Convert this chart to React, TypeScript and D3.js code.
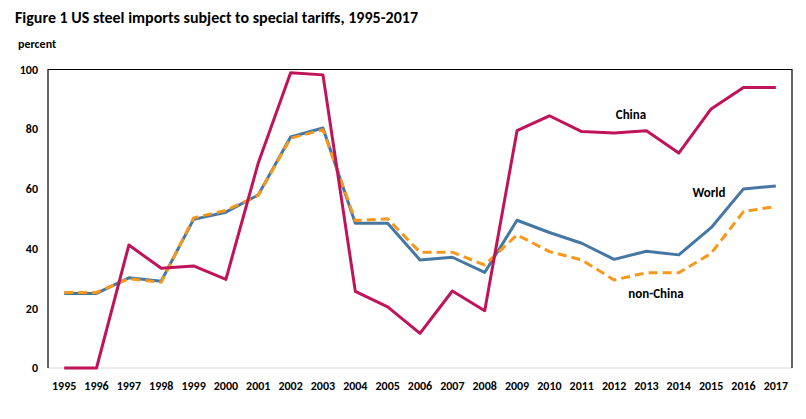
import React from "react";
import * as d3 from "d3";

const years = [
  "1995", "1996", "1997", "1998", "1999", "2000", "2001", "2002", "2003", "2004", "2005", "2006",
  "2007", "2008", "2009", "2010", "2011", "2012", "2013", "2014", "2015", "2016", "2017",
];

const china = [
  0, 0, 41.2, 33.4, 34.2, 29.7, 68.7, 98.9, 98.2, 25.7, 20.5, 11.6,
  25.8, 19.2, 79.5, 84.5, 79.2, 78.7, 79.5, 72.0, 86.8, 94.0, 94.0,
];

const world = [
  25.0, 25.0, 30.2, 29.1, 49.8, 52.2, 58.0, 77.4, 80.4, 48.5, 48.5, 36.2,
  37.1, 32.0, 49.5, 45.4, 41.8, 36.4, 39.1, 37.9, 47.0, 60.0, 61.0,
];

const nonChina = [
  25.3, 25.3, 29.9, 28.7, 50.3, 52.8, 57.8, 77.0, 79.8, 49.4, 50.0, 38.8,
  38.8, 34.5, 44.6, 39.0, 36.2, 29.5, 31.9, 31.9, 38.4, 52.4, 54.1,
];

const yTicks = [0, 20, 40, 60, 80, 100];

const width = 806;
const height = 419;
const margin = { left: 48, top: 69.5, right: 14, bottom: 51 };
const innerW = width - margin.left - margin.right;
const innerH = height - margin.top - margin.bottom;

const x = d3.scaleBand<string>().domain(years).range([0, innerW]);
const y = d3.scaleLinear().domain([0, 100]).range([innerH, 0]);

const line = d3
  .line<number>()
  .x((_, i) => (x(years[i]) ?? 0) + x.bandwidth() / 2)
  .y((d) => y(d));

const font = "Carlito, Calibri, Lato, 'Open Sans', sans-serif";

const App = () => {
  return (
    <svg width={width} height={height} style={{ display: "block", position: "absolute", left: 0, top: 0 }}>
      <rect width={width} height={height} fill="white" />
      <text x={15} y={23} fontFamily={font} fontWeight="bold" fontSize={15} textLength={403} lengthAdjust="spacingAndGlyphs" fill="#000">
        Figure 1 US steel imports subject to special tariffs, 1995-2017
      </text>
      <text x={18} y={48} fontFamily={font} fontSize={12} fontWeight={600} fill="#000">
        percent
      </text>
      <g transform={`translate(${margin.left}, ${margin.top})`}>
        {/* frame */}
        <line x1={0} x2={innerW} y1={innerH} y2={innerH} stroke="#d9d9d9" strokeWidth={1.2} />
        <path d={`M0,${innerH}V0H${innerW}V${innerH}`} fill="none" stroke="#000" strokeWidth={1.2} />
        {yTicks.map((t) => (
          <text key={t} x={-10} y={y(t)} dy="0.35em" textAnchor="end" fontFamily={font} fontWeight="bold" fontSize={12} fill="#000">
            {t}
          </text>
        ))}
        {years.map((yr) => (
          <text key={yr} x={(x(yr) ?? 0) + x.bandwidth() / 2} y={innerH + 22} textAnchor="middle" fontFamily={font} fontWeight="bold" fontSize={12} fill="#000">
            {yr}
          </text>
        ))}
        <path d={line(world) || ""} fill="none" stroke="#4677A3" strokeWidth={3} strokeLinejoin="round" />
        <path d={line(nonChina) || ""} fill="none" stroke="#F7981D" strokeWidth={3} strokeDasharray="9,5" strokeLinejoin="round" />
        <path d={line(china) || ""} fill="none" stroke="#C0145A" strokeWidth={3} strokeLinejoin="round" />
        <text x={631 - margin.left} y={114 - margin.top} dy="0.35em" textAnchor="middle" fontFamily={font} fontWeight={600} fontSize={13} fill="#000">
          China
        </text>
        <text x={709 - margin.left} y={192 - margin.top} dy="0.35em" textAnchor="middle" fontFamily={font} fontWeight="bold" fontSize={13} fill="#000">
          World
        </text>
        <text x={656 - margin.left} y={293 - margin.top} dy="0.35em" textAnchor="middle" fontFamily={font} fontWeight={600} fontSize={13} fill="#000">
          non-China
        </text>
      </g>
    </svg>
  );
};

export default App;
